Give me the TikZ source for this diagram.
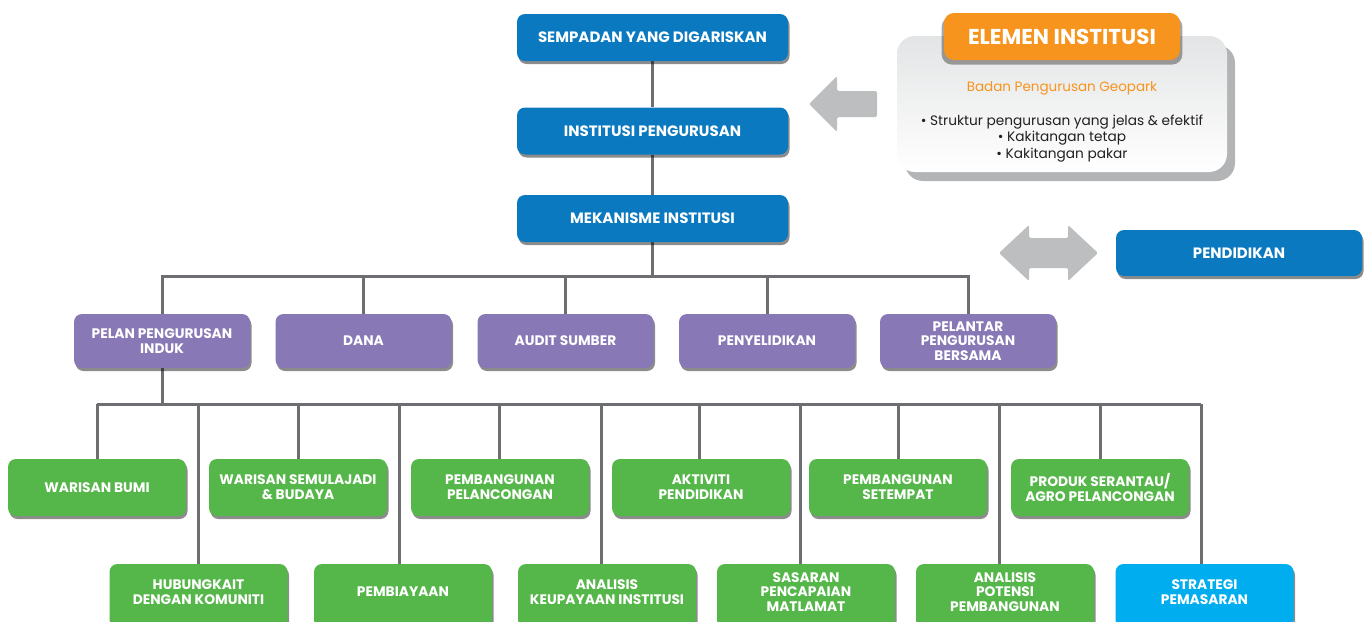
\documentclass[tikz,border=0pt]{standalone}
\usepackage{fontspec}
\setmainfont{Poppins}
\usetikzlibrary{shadows,backgrounds}
\definecolor{tblue}{HTML}{0A79BF}
\definecolor{tpurple}{HTML}{8878B5}
\definecolor{tgreen}{HTML}{55B649}
\definecolor{tcyan}{HTML}{00ADEE}
\definecolor{torange}{HTML}{F7941D}
\definecolor{tline}{HTML}{6D6E71}
\definecolor{tarrow}{HTML}{BCBEC0}
\definecolor{ttext}{HTML}{231F20}
\definecolor{tshadow}{HTML}{B3B4B6}
\definecolor{ttop}{HTML}{E3E4E5}
\tikzset{
  box/.style={rectangle, rounded corners=8pt, text=white, align=center, inner sep=0pt,
    font=\bfseries\fontsize{13.8}{14.8}\selectfont,
    drop shadow={shadow xshift=1.5pt, shadow yshift=-3pt, opacity=0.45, fill=black}},
  topbox/.style={box, fill=tblue, minimum width=271pt, minimum height=47pt,
    font=\bfseries\fontsize{15}{16}\selectfont},
  pbox/.style={box, fill=tpurple, minimum width=176pt, minimum height=54pt},
  gbox/.style={box, fill=tgreen, minimum width=178pt, minimum height=57pt},
  gboxlow/.style={box, fill=#1, minimum width=178pt, minimum height=64pt},
  ltext/.style={text=white, align=center, inner sep=0pt, yshift=4pt,
    font=\bfseries\fontsize{13.8}{14.8}\selectfont},
  conn/.style={draw=tline, line width=3pt},
  garrow/.style={fill=tarrow, rounded corners=1.5pt},
  bodytext/.style={text=ttext, align=center, inner sep=0pt,
    font=\fontsize{13.7}{16.5}\selectfont},
}
\begin{document}
\begin{tikzpicture}[x=1pt,y=-1pt]
\useasboundingbox (0,0) rectangle (1370,621);

% top column
\node[topbox] (t1) at (652.5,37.5) {SEMPADAN YANG DIGARISKAN};
\node[topbox] (t2) at (652.5,131) {INSTITUSI PENGURUSAN};
\node[topbox] (t3) at (652.5,218.5) {MEKANISME INSTITUSI};
\node[topbox, minimum width=246pt, minimum height=46pt] (pend) at (1239,253) {PENDIDIKAN};

% element box
\node[rectangle, rounded corners=18pt, minimum width=330pt, minimum height=136pt,
  top color=ttop, bottom color=white, inner sep=0pt,
  drop shadow={shadow xshift=8pt, shadow yshift=-9pt, opacity=1, fill=tshadow}] (elem) at (1062,104) {};
\node[rectangle, rounded corners=10pt, fill=torange, minimum width=236pt, minimum height=47pt,
  text=white, inner sep=0pt, font=\bfseries\fontsize{21.5}{23}\selectfont,
  drop shadow={shadow xshift=0pt, shadow yshift=-4pt, shadow scale=1.02, opacity=0.35, fill=black}] (eltitle) at (1062,36.5) {ELEMEN INSTITUSI};
\node[bodytext, text=torange, font=\fontsize{13.5}{16.5}\selectfont] (badan) at (1062,88.5) {Badan Pengurusan Geopark};
\node[bodytext] (bul) at (1062,138.5) {• Struktur pengurusan yang jelas \& efektif\\• Kakitangan tetap\\• Kakitangan pakar};

% grey arrows
\fill[garrow] (809,104) -- (837,76) -- (837,91) -- (877,91) -- (877,117) -- (837,117) -- (837,132) -- cycle;
\fill[garrow] (999,253) -- (1029,225) -- (1029,238) -- (1068,238) -- (1068,225) -- (1098,253)
  -- (1068,281) -- (1068,268) -- (1029,268) -- (1029,281) -- cycle;

% purple row
\node[pbox] (p1) at (162,341) {PELAN PENGURUSAN\\INDUK};
\node[pbox] (p2) at (363.5,341) {DANA};
\node[pbox] (p3) at (565.5,341) {AUDIT SUMBER};
\node[pbox] (p4) at (767,341) {PENYELIDIKAN};
\node[pbox] (p5) at (968,341) {PELANTAR\\PENGURUSAN\\BERSAMA};

% green row 1
\node[gbox] (a1) at (97,487.5) {WARISAN BUMI};
\node[gbox] (a2) at (298,487.5) {WARISAN SEMULAJADI\\\& BUDAYA};
\node[gbox] (a3) at (500,487.5) {PEMBANGUNAN\\PELANCONGAN};
\node[gbox] (a4) at (701,487.5) {AKTIVITI\\PENDIDIKAN};
\node[gbox] (a5) at (898,487.5) {PEMBANGUNAN\\SETEMPAT};
\node[gbox] (a6) at (1100,487.5) {PRODUK SERANTAU/\\AGRO PELANCONGAN};

% green row 2
\node[gboxlow=tgreen, label={[ltext]center:{HUBUNGKAIT\\DENGAN KOMUNITI}}] (b1) at (198.5,596) {};
\node[gboxlow=tgreen, label={[ltext]center:{PEMBIAYAAN}}] (b2) at (403,596) {};
\node[gboxlow=tgreen, label={[ltext]center:{ANALISIS\\KEUPAYAAN INSTITUSI}}] (b3) at (607,596) {};
\node[gboxlow=tgreen, label={[ltext]center:{SASARAN\\PENCAPAIAN\\MATLAMAT}}] (b4) at (806,596) {};
\node[gboxlow=tgreen, label={[ltext]center:{ANALISIS\\POTENSI\\PEMBANGUNAN}}] (b5) at (1005,596) {};
\node[gboxlow=tcyan, label={[ltext]center:{STRATEGI\\PEMASARAN}}] (b6) at (1204.5,596) {};

% bars
\coordinate (bar1) at (652.5,276);
\foreach \i/\x in {1/97,2/198,3/298,4/399,5/499,6/601,7/699,8/800,9/898,10/999,11/1100,12/1201}
  \coordinate (v\i) at (\x,404);

\begin{scope}[on background layer]
\draw[conn] (t1.south) -- (t2.north);
\draw[conn] (t2.south) -- (t3.north);
\draw[conn] (t3.south) -- (bar1);
\draw[conn] (p1.north) |- (bar1) -| (p5.north);
\foreach \n in {p2,p3,p4} \draw[conn] (\n.north) -- (\n.north |- bar1);
\draw[conn] (p1.south) -- (p1.south |- v1);
\draw[conn] (v1) -- (v12);
\draw[conn] (v1) -- (v1 |- a1.north);
\draw[conn] (v3) -- (v3 |- a2.north);
\draw[conn] (v5) -- (v5 |- a3.north);
\draw[conn] (v7) -- (v7 |- a4.north);
\draw[conn] (v9) -- (v9 |- a5.north);
\draw[conn] (v11) -- (v11 |- a6.north);
\draw[conn] (v2) -- (v2 |- b1.north);
\draw[conn] (v4) -- (v4 |- b2.north);
\draw[conn] (v6) -- (v6 |- b3.north);
\draw[conn] (v8) -- (v8 |- b4.north);
\draw[conn] (v10) -- (v10 |- b5.north);
\draw[conn] (v12) -- (v12 |- b6.north);
\end{scope}
\end{tikzpicture}
\end{document}
